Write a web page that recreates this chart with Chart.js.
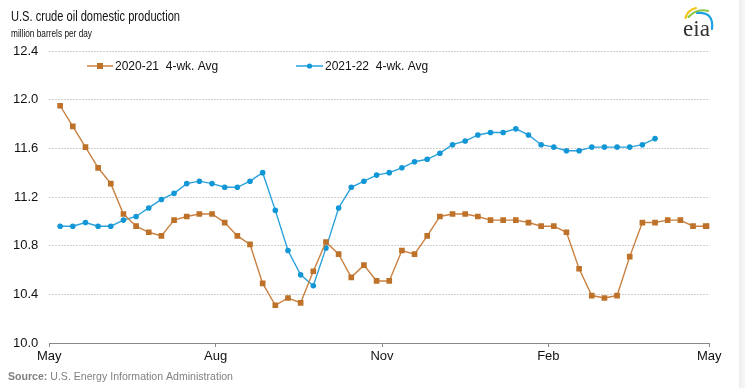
<!DOCTYPE html>
<html>
<head>
<meta charset="utf-8">
<script src="https://cdn.jsdelivr.net/npm/chart.js@4/dist/chart.umd.min.js"></script>
<style>
html,body{margin:0;padding:0;background:#fff;overflow:hidden}
#wrap{position:relative;width:745px;height:388px}
canvas{display:block}
</style>
</head>
<body>
<div id="wrap"><canvas id="c" width="745" height="388"></canvas></div>
<script>
// ---- text ----
const titleText = 'U.S. crude oil domestic production';
const unitText = 'million barrels per day';
const sourceLabel = 'Source:';
const sourceText = ' U.S. Energy Information Administration';

// ---- axes ----
const xTickDays = [0, 92, 184, 276, 365];          // days since May 1
const xTickLabels = ['May', 'Aug', 'Nov', 'Feb', 'May'];
const yTicks = [10.0, 10.4, 10.8, 11.2, 11.6, 12.0, 12.4];

// ---- series ----
const seriesNames = ['2020-21  4-wk. Avg', '2021-22  4-wk. Avg'];
const avg2020_21 = [11.95, 11.78, 11.61, 11.44, 11.31, 11.06, 10.96, 10.91, 10.88, 11.01,
  11.04, 11.06, 11.06, 10.99, 10.88, 10.81, 10.49, 10.31, 10.37, 10.33,
  10.59, 10.83, 10.73, 10.54, 10.64, 10.51, 10.51, 10.76, 10.73, 10.88,
  11.04, 11.06, 11.06, 11.04, 11.01, 11.01, 11.01, 10.99, 10.96, 10.96,
  10.91, 10.61, 10.39, 10.37, 10.39, 10.71, 10.99, 10.99, 11.01, 11.01,
  10.96, 10.96, 10.96];
const avg2021_22 = [10.96, 10.96, 10.99, 10.96, 10.96, 11.01, 11.04, 11.11, 11.18, 11.23,
  11.31, 11.33, 11.31, 11.28, 11.28, 11.33, 11.40, 11.09, 10.76, 10.56,
  10.47, 10.78, 11.11, 11.28, 11.33, 11.38, 11.40, 11.44, 11.49, 11.51,
  11.56, 11.63, 11.66, 11.71, 11.73, 11.73, 11.76, 11.71, 11.63, 11.61,
  11.58, 11.58, 11.61, 11.61, 11.61, 11.61, 11.63, 11.68];
const firstWeekDay = 6;        // first weekly point: May 7
const lastPointDay2020_21 = 365; // final 2020-21 point sits on the May 1 end of the axis

function weeklyPoints(values, extraDay) {
  return values.map((v, i) => {
    let d = firstWeekDay + 7 * i;
    if (extraDay !== undefined && i === values.length - 1 && d > 365) d = extraDay;
    return {x: d, y: v};
  });
}

const orangeMarker = '#BE7128', orangeLine = '#C98040';
const blueMarker = '#1196D6', blueLine = '#2AA1DC';

const FONT = '"Liberation Sans", Arial, Helvetica, sans-serif';
Chart.defaults.font.family = FONT;

function drawFitted(ctx, text, x, y, font, color, width) {
  ctx.save();
  ctx.font = font;
  ctx.fillStyle = color;
  ctx.textBaseline = 'alphabetic';
  const w = ctx.measureText(text).width;
  ctx.translate(x, y);
  ctx.scale(width / w, 1);
  ctx.fillText(text, 0, 0);
  ctx.restore();
}

const decorPlugin = {
  id: 'decor',
  beforeDraw(chart) {
    const ctx = chart.ctx;
    ctx.save();
    ctx.fillStyle = '#fff';
    ctx.fillRect(0, 0, chart.width, chart.height);
    ctx.restore();
  },
  afterDraw(chart) {
    const ctx = chart.ctx;
    // title + unit
    drawFitted(ctx, titleText, 11, 20.5, '14px ' + FONT, '#111', 169);
    drawFitted(ctx, unitText, 11, 37, '10px ' + FONT, '#111', 81);
    // source
    ctx.save();
    ctx.font = 'bold 11px ' + FONT;
    const w1 = ctx.measureText(sourceLabel).width;
    ctx.font = '11px ' + FONT;
    const w2 = ctx.measureText(sourceText).width;
    const sx = 225 / (w1 + w2);
    ctx.translate(8, 380);
    ctx.scale(sx, 1);
    ctx.fillStyle = '#808080';
    ctx.font = 'bold 11px ' + FONT;
    ctx.fillText(sourceLabel, 0, 0);
    ctx.font = '11px ' + FONT;
    ctx.fillText(sourceText, w1, 0);
    ctx.restore();

    // legend
    const items = [{x1: 87, x2: 113}, {x1: 296, x2: 323}];
    const ly = 66;
    chart.data.datasets.forEach((ds, i) => {
      const it = items[i];
      ctx.save();
      ctx.strokeStyle = ds.borderColor;
      ctx.lineWidth = 1.5;
      ctx.beginPath();
      ctx.moveTo(it.x1, ly);
      ctx.lineTo(it.x2, ly);
      ctx.stroke();
      ctx.fillStyle = ds.pointBackgroundColor;
      const cx = (it.x1 + it.x2) / 2;
      if (ds.pointStyle === 'rect') {
        ctx.fillRect(cx - 3, ly - 3, 6, 6);
      } else {
        ctx.beginPath();
        ctx.arc(cx, ly, 2.6, 0, Math.PI * 2);
        ctx.fill();
      }
      ctx.fillStyle = '#111';
      ctx.font = '12px ' + FONT;
      ctx.textBaseline = 'middle';
      ctx.fillText(ds.label, it.x2 + 2, ly + 0.5);
      ctx.restore();
    });

    // eia logo
    ctx.save();
    ctx.lineCap = 'round';
    ctx.lineWidth = 2.2;
    ctx.strokeStyle = '#F4C414';
    ctx.beginPath(); ctx.moveTo(685.5, 18); ctx.quadraticCurveTo(687.5, 10, 696, 8); ctx.stroke();
    ctx.strokeStyle = '#8CC63F';
    ctx.beginPath(); ctx.moveTo(688.5, 17); ctx.quadraticCurveTo(697, 8, 708, 11); ctx.stroke();
    ctx.strokeStyle = '#1BA1E2';
    ctx.beginPath(); ctx.moveTo(697, 13); ctx.quadraticCurveTo(714, 11.5, 712, 29); ctx.stroke();
    ctx.restore();
    drawFitted(ctx, 'eia', 683, 36, '24px "Liberation Serif", "Times New Roman", serif', '#333', 27);

    // right page edge shade
    ctx.save();
    const g = ctx.createLinearGradient(739, 0, 745, 0);
    g.addColorStop(0, '#eeeeee');
    g.addColorStop(1, '#f8f8f8');
    ctx.fillStyle = g;
    ctx.fillRect(739, 0, 6, chart.height);
    ctx.restore();
  }
};

new Chart(document.getElementById('c'), {
  type: 'line',
  data: {
    datasets: [
      {
        label: seriesNames[0],
        data: weeklyPoints(avg2020_21, lastPointDay2020_21),
        borderColor: orangeLine,
        backgroundColor: orangeMarker,
        pointBackgroundColor: orangeMarker,
        pointBorderColor: orangeMarker,
        pointStyle: 'rect',
        pointRadius: 4,
        pointBorderWidth: 0,
        borderWidth: 1.4,
        tension: 0
      },
      {
        label: seriesNames[1],
        data: weeklyPoints(avg2021_22),
        borderColor: blueLine,
        backgroundColor: blueMarker,
        pointBackgroundColor: blueMarker,
        pointBorderColor: blueMarker,
        pointStyle: 'circle',
        pointRadius: 2.8,
        pointBorderWidth: 0,
        borderWidth: 1.4,
        tension: 0
      }
    ]
  },
  options: {
    responsive: false,
    animation: false,
    events: [],
    layout: {padding: {left: 0, top: 51, right: 35.7, bottom: 0}},
    plugins: {legend: {display: false}, tooltip: {enabled: false}, title: {display: false}},
    scales: {
      x: {
        type: 'linear',
        min: 0,
        max: 365,
        afterFit(s) { s.height = 45; },
        afterBuildTicks(s) { s.ticks = xTickDays.map(v => ({value: v})); },
        ticks: {
          autoSkip: false,
          maxRotation: 0,
          padding: 2,
          color: '#111',
          font: {size: 13},
          callback(v) { const i = xTickDays.indexOf(v); return i >= 0 ? xTickLabels[i] : ''; }
        },
        grid: {drawOnChartArea: false, drawTicks: true, tickLength: 4, color: '#888', lineWidth: 1},
        border: {display: true, color: '#888', width: 1}
      },
      y: {
        min: 10,
        max: 12.4,
        afterFit(s) { s.width = 49.3; },
        afterBuildTicks(s) { s.ticks = yTicks.map(v => ({value: v})); },
        ticks: {
          padding: 11,
          color: '#111',
          font: {size: 13},
          callback(v) { return Number(v).toFixed(1); }
        },
        grid: {drawTicks: false, color: '#cfcfcf', lineWidth: 1},
        border: {display: false, dash: [2, 1]}
      }
    }
  },
  plugins: [decorPlugin]
});
</script>
</body>
</html>
